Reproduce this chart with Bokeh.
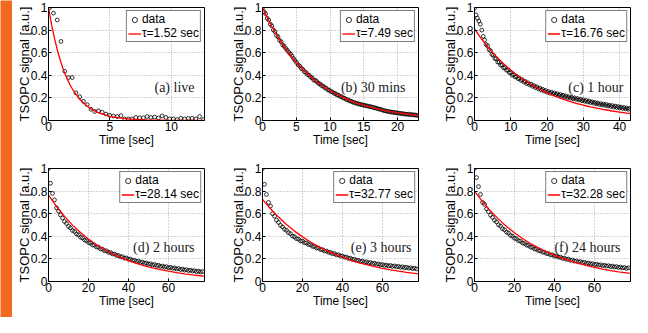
import numpy as np
from bokeh.plotting import figure
from bokeh.layouts import row, column
from bokeh.models import FixedTicker, CustomJSTickFormatter, Label, Range1d
from bokeh.embed import file_html
from bokeh.resources import INLINE

# ---------------- data ----------------
titles = ["(a) live", "(b) 30 mins", "(c) 1 hour", "(d) 2 hours", "(e) 3 hours", "(f) 24 hours"]
fit_labels = ["τ=1.52 sec", "τ=7.49 sec", "τ=16.76 sec", "τ=28.14 sec", "τ=32.77 sec", "τ=32.28 sec"]
x_max = [12.7, 23.1, 43.0, 78.0, 78.0, 78.0]
x_ticks = [[0, 5, 10], [0, 5, 10, 15, 20], [0, 10, 20, 30, 40], [0, 20, 40, 60], [0, 20, 40, 60], [0, 20, 40, 60]]
y_ticks = [0, 0.2, 0.4, 0.6, 0.8, 1]
x_title = "Time [sec]"
y_title = "TSOPC signal [a.u.]"

# sampling of the measured data: first time and interval [sec]
t_start = [0.1, 0.0, 0.0, 0.0, 0.0, 0.0]
t_step = [0.305, 0.23, 0.4, 1.0, 1.0, 1.0]

data_a = [1.00, 0.95, 0.89, 0.70, 0.435, 0.38, 0.38, 0.245, 0.21, 0.17, 0.14, 0.10, 0.08, 0.085,
          0.073, 0.057, 0.046, 0.04, 0.035, 0.043, 0.014, 0.014, 0.014, 0.027, 0.024, 0.024, 0.035,
          0.027, 0.03, 0.022, 0.04, 0.027, 0.014, 0.014, 0.008, 0.019, 0.014, 0.019, 0.019, 0.014,
          0.035, 0.008]
data_b = [0.998, 0.962, 0.945, 0.905, 0.889, 0.852, 0.838, 0.801, 0.786, 0.752, 0.741, 0.709, 0.697,
          0.668, 0.657, 0.637, 0.621, 0.604, 0.589, 0.571, 0.549, 0.531, 0.512, 0.492, 0.481, 0.461,
          0.452, 0.431, 0.425, 0.406, 0.401, 0.384, 0.377, 0.358, 0.355, 0.344, 0.329, 0.324, 0.309,
          0.305, 0.291, 0.287, 0.271, 0.269, 0.255, 0.253, 0.241, 0.238, 0.226, 0.224, 0.212, 0.211,
          0.199, 0.196, 0.186, 0.183, 0.174, 0.171, 0.163, 0.160, 0.154, 0.151, 0.146, 0.143, 0.139,
          0.136, 0.133, 0.130, 0.127, 0.123, 0.121, 0.117, 0.113, 0.110, 0.106, 0.101, 0.099, 0.093,
          0.089, 0.085, 0.083, 0.079, 0.077, 0.074, 0.073, 0.070, 0.069, 0.066, 0.065, 0.062, 0.061,
          0.058, 0.057, 0.055, 0.056, 0.052, 0.053, 0.049, 0.050, 0.046, 0.045]
data_c = [0.995, 0.935, 0.905, 0.88, 0.852, 0.80, 0.745, 0.712, 0.672, 0.661, 0.628, 0.617, 0.584,
          0.578, 0.549, 0.546, 0.518, 0.515, 0.49, 0.491, 0.466, 0.468, 0.445, 0.446, 0.424, 0.423,
          0.401, 0.406, 0.386, 0.39, 0.37, 0.374, 0.355, 0.36, 0.341, 0.346, 0.327, 0.333, 0.315,
          0.321, 0.303, 0.309, 0.291, 0.298, 0.281, 0.287, 0.27, 0.276, 0.26, 0.266, 0.25, 0.257,
          0.242, 0.25, 0.236, 0.243, 0.229, 0.237, 0.223, 0.23, 0.216, 0.224, 0.21, 0.218, 0.204,
          0.211, 0.198, 0.205, 0.192, 0.2, 0.187, 0.194, 0.181, 0.188, 0.175, 0.183, 0.17, 0.177,
          0.164, 0.172, 0.159, 0.166, 0.153, 0.16, 0.148, 0.155, 0.142, 0.149, 0.137, 0.145, 0.133,
          0.141, 0.128, 0.136, 0.124, 0.132, 0.119, 0.127, 0.115, 0.123, 0.111, 0.119, 0.107, 0.115,
          0.103, 0.111, 0.099, 0.106]
data_d = [1.0, 0.87, 0.78, 0.722, 0.652, 0.623, 0.588, 0.562, 0.531, 0.514, 0.487, 0.474, 0.451,
          0.443, 0.421, 0.413, 0.392, 0.386, 0.367, 0.361, 0.344, 0.34, 0.323, 0.321, 0.305, 0.303,
          0.289, 0.286, 0.272, 0.271, 0.258, 0.256, 0.244, 0.243, 0.231, 0.23, 0.219, 0.219, 0.207,
          0.208, 0.197, 0.198, 0.187, 0.188, 0.178, 0.18, 0.17, 0.172, 0.162, 0.164, 0.154, 0.157,
          0.147, 0.15, 0.141, 0.144, 0.134, 0.137, 0.128, 0.131, 0.122, 0.125, 0.117, 0.12, 0.111,
          0.115, 0.106, 0.11, 0.101, 0.105, 0.097, 0.1, 0.092, 0.096, 0.088, 0.092, 0.084, 0.088]
data_e = [1.0, 0.86, 0.77, 0.70, 0.667, 0.60, 0.578, 0.543, 0.523, 0.497, 0.483, 0.462, 0.453,
          0.432, 0.423, 0.402, 0.396, 0.379, 0.375, 0.359, 0.357, 0.343, 0.341, 0.327, 0.325, 0.311,
          0.31, 0.297, 0.296, 0.283, 0.282, 0.27, 0.27, 0.258, 0.258, 0.246, 0.247, 0.235, 0.236,
          0.225, 0.226, 0.215, 0.216, 0.205, 0.206, 0.195, 0.197, 0.186, 0.188, 0.178, 0.18, 0.171,
          0.174, 0.165, 0.168, 0.159, 0.162, 0.153, 0.156, 0.147, 0.15, 0.142, 0.146, 0.138, 0.142,
          0.134, 0.138, 0.13, 0.134, 0.126, 0.13, 0.122, 0.126, 0.118, 0.122, 0.114, 0.118, 0.111]
data_f = [1.0, 0.92, 0.84, 0.77, 0.70, 0.683, 0.642, 0.618, 0.587, 0.568, 0.542, 0.528, 0.502,
          0.49, 0.467, 0.458, 0.437, 0.428, 0.408, 0.401, 0.383, 0.378, 0.361, 0.357, 0.341, 0.337,
          0.322, 0.319, 0.304, 0.302, 0.288, 0.286, 0.273, 0.272, 0.259, 0.259, 0.247, 0.247, 0.235,
          0.236, 0.225, 0.226, 0.215, 0.216, 0.205, 0.206, 0.196, 0.198, 0.188, 0.19, 0.18, 0.182,
          0.173, 0.176, 0.167, 0.17, 0.161, 0.164, 0.155, 0.158, 0.15, 0.153, 0.145, 0.148, 0.14,
          0.144, 0.136, 0.14, 0.132, 0.136, 0.128, 0.132, 0.124, 0.128, 0.12, 0.124, 0.116, 0.121]

# red fitted curves, read at these times
fit_t_a = [0, 0.25, 0.5, 0.75, 1, 1.25, 1.5, 1.75, 2, 2.5, 3, 3.5, 4, 5, 6, 7, 8, 10, 12.7]
fit_y_a = [1.0, 0.848, 0.720, 0.611, 0.518, 0.439, 0.373, 0.316, 0.268, 0.193, 0.139, 0.100, 0.072,
           0.037, 0.019, 0.010, 0.005, 0.0014, 0.0002]
fit_t_b = [0, 1, 2, 3, 4, 5, 6, 7, 8, 9, 10, 11, 12, 13, 14, 15, 16, 17, 18, 19, 20, 21, 22, 23.1]
fit_y_b = [1.0, 0.875, 0.766, 0.670, 0.586, 0.513, 0.449, 0.393, 0.344, 0.301, 0.263, 0.230, 0.202,
           0.176, 0.154, 0.135, 0.118, 0.103, 0.0905, 0.079, 0.069, 0.061, 0.053, 0.046]
fit_t_c = [0, 2, 4, 6, 8, 10, 12, 14, 16, 18, 20, 22, 24, 26, 28, 30, 32, 34, 36, 38, 40, 42, 43]
fit_y_c = [0.81, 0.719, 0.638, 0.566, 0.503, 0.446, 0.396, 0.351, 0.312, 0.277, 0.246, 0.218, 0.194,
           0.172, 0.152, 0.135, 0.120, 0.107, 0.095, 0.084, 0.075, 0.066, 0.062]
fit_t_def = [0, 4, 8, 12, 16, 20, 24, 28, 32, 36, 40, 44, 48, 52, 56, 60, 64, 68, 72, 76, 78]
fit_y_d = [0.765, 0.664, 0.576, 0.499, 0.433, 0.376, 0.326, 0.283, 0.245, 0.213, 0.185, 0.160, 0.139,
           0.121, 0.105, 0.091, 0.079, 0.068, 0.059, 0.051, 0.048]
fit_y_e = [0.727, 0.644, 0.570, 0.504, 0.446, 0.395, 0.350, 0.309, 0.274, 0.242, 0.215, 0.190, 0.168,
           0.149, 0.132, 0.117, 0.103, 0.091, 0.081, 0.072, 0.067]
fit_y_f = [0.800, 0.707, 0.624, 0.552, 0.487, 0.431, 0.380, 0.336, 0.297, 0.262, 0.232, 0.205, 0.181,
           0.160, 0.141, 0.125, 0.110, 0.097, 0.086, 0.076, 0.071]

data_all = [data_a, data_b, data_c, data_d, data_e, data_f]
fit_t_all = [fit_t_a, fit_t_b, fit_t_c, fit_t_def, fit_t_def, fit_t_def]
fit_y_all = [fit_y_a, fit_y_b, fit_y_c, fit_y_d, fit_y_e, fit_y_f]

# ---------------- styling / layout ----------------
FONT = "Liberation Sans"
SERIF = "Liberation Serif"
col_specs = [(207, 36, 15), (207, 43, 8), (206, 48, 2)]     # width, left border, right border
row_specs = [(156, 7, 36), (161, 12, 36)]                   # height, top border, bottom border
label_off = [-10, -13, -7, -10, -7, -10]
label_y = [0.29, 0.29, 0.29, 0.305, 0.305, 0.305]


def make_panel(i):
    r, c = divmod(i, 3)
    w, bl, br = col_specs[c]
    h, bt, bb = row_specs[r]
    p = figure(width=w, height=h, output_backend="svg", toolbar_location=None,
               x_range=Range1d(0, x_max[i]), y_range=Range1d(0, 1),
               min_border_left=bl, min_border_right=br, min_border_top=bt, min_border_bottom=bb,
               background_fill_color="white", border_fill_color="white")
    t = np.arange(len(data_all[i])) * t_step[i] + t_start[i]
    p.scatter(t, data_all[i], marker="circle", size=3.8, fill_color=None, line_color="black",
              line_width=0.8, legend_label="data")
    p.line(fit_t_all[i], fit_y_all[i], line_color="#ff0000", line_width=1.3, legend_label=fit_labels[i])

    p.xaxis.ticker = FixedTicker(ticks=x_ticks[i])
    p.xgrid.ticker = FixedTicker(ticks=x_ticks[i])
    p.yaxis.ticker = FixedTicker(ticks=y_ticks)
    p.ygrid.ticker = FixedTicker(ticks=y_ticks)
    p.yaxis.formatter = CustomJSTickFormatter(code="return String(tick);")
    p.xaxis.axis_label = x_title
    p.yaxis.axis_label = y_title
    for ax in (p.xaxis[0], p.yaxis[0]):
        ax.major_tick_in = 3
        ax.major_tick_out = 0
        ax.minor_tick_in = 0
        ax.minor_tick_out = 0
        ax.major_label_standoff = 1
        ax.major_label_text_font = FONT
        ax.major_label_text_font_size = "12px"
        ax.major_label_text_color = "black"
        ax.axis_label_text_font = FONT
        ax.axis_label_text_font_style = "normal"
        ax.axis_label_text_color = "black"
        ax.axis_line_color = "black"
        ax.major_tick_line_color = "black"
    p.xaxis.axis_label_text_font_size = "12px"
    p.xaxis.axis_label_standoff = -1
    p.yaxis.axis_label_text_font_size = "13px"
    p.yaxis.axis_label_standoff = -4

    p.grid.grid_line_color = "#a8a8a8"
    p.grid.grid_line_dash = "1 2"
    p.grid.grid_line_width = 1
    p.outline_line_color = "black"
    p.outline_line_alpha = 1
    p.outline_line_width = 1

    lg = p.legend[0]
    lg.location = "top_right"
    lg.margin = 3
    lg.padding = 1
    lg.spacing = 0
    lg.label_height = 13
    lg.glyph_height = 13
    lg.glyph_width = 13
    lg.label_standoff = 1
    lg.label_text_font = FONT
    lg.label_text_font_size = "12px"
    lg.label_text_color = "black"
    lg.border_line_color = "black"
    lg.border_line_width = 1
    lg.background_fill_color = "white"
    lg.background_fill_alpha = 1

    p.add_layout(Label(x=x_max[i], y=label_y[i], x_offset=label_off[i], text=titles[i],
                       text_align="right", text_baseline="middle", text_font=SERIF,
                       text_font_size="14px", text_color="#222222"))
    return p


panels = [make_panel(i) for i in range(6)]

bar = figure(width=12, height=317, output_backend="svg", toolbar_location=None,
             x_axis_location=None, y_axis_location=None, min_border=0,
             background_fill_color="#f26a21", border_fill_color="#f26a21",
             outline_line_color=None)
bar.grid.visible = False

layout = row(bar, column(row(*panels[:3]), row(*panels[3:])))

open("out.html", "w").write(file_html(layout, INLINE))
